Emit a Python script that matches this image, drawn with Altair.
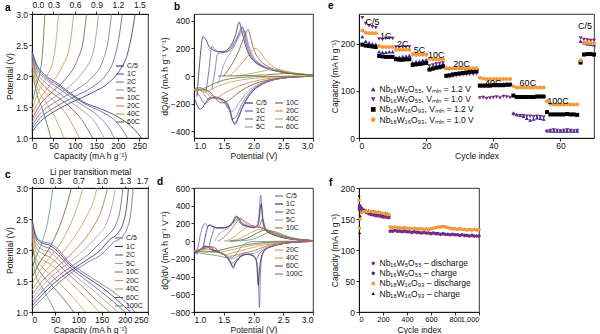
import altair as alt
import pandas as pd

FONT = "Liberation Sans"

# ---------------- rates & colours ----------------
rates_ab = ["C/5", "1C", "2C", "5C", "10C", "20C", "40C", "60C"]
colors_ab = ["#2d2b6b", "#4f5aa8", "#70708e", "#9c8cab", "#8c4a3c", "#d9843c", "#b3a64a", "#5f6e3a"]
rates_cd = ["C/5", "1C", "2C", "5C", "10C", "20C", "40C", "60C", "100C"]
colors_cd = ["#6462b4", "#2a2860", "#66587e", "#b88cb0", "#b0683e", "#d8963e", "#b5a25a", "#5e5e32", "#5f9474"]

# ---------------- panel a: Nb16W5O55 galvanostatic (capacity, potential) ----------------
a_discharge = {
    "C/5": [(0, 2.40), (10, 2.2), (30, 2.02), (60, 1.88), (90, 1.72), (120, 1.58), (160, 1.47), (200, 1.34), (235, 1.16), (255, 1.0)],
    "1C": [(0, 2.38), (10, 2.17), (30, 1.99), (60, 1.85), (90, 1.70), (120, 1.56), (160, 1.43), (190, 1.30), (210, 1.14), (222, 1.0)],
    "2C": [(0, 2.36), (10, 2.13), (30, 1.96), (60, 1.81), (90, 1.66), (120, 1.52), (150, 1.38), (175, 1.20), (192, 1.0)],
    "5C": [(0, 2.33), (10, 2.08), (30, 1.90), (60, 1.74), (90, 1.58), (120, 1.43), (145, 1.27), (168, 1.0)],
    "10C": [(0, 2.30), (10, 2.02), (30, 1.83), (60, 1.66), (90, 1.49), (115, 1.30), (141, 1.0)],
    "20C": [(0, 2.25), (10, 1.95), (30, 1.74), (60, 1.54), (85, 1.33), (110, 1.0)],
    "40C": [(0, 2.20), (10, 1.86), (30, 1.60), (50, 1.38), (75, 1.0)],
    "60C": [(0, 2.10), (10, 1.75), (25, 1.45), (44, 1.0)],
}
a_charge = {
    "C/5": [(0, 1.10), (20, 1.27), (50, 1.42), (100, 1.60), (140, 1.73), (180, 1.90), (205, 2.10), (222, 2.35), (233, 2.70), (240, 3.0)],
    "1C": [(0, 1.15), (20, 1.33), (50, 1.48), (100, 1.67), (140, 1.82), (170, 2.00), (190, 2.25), (202, 2.60), (210, 3.0)],
    "2C": [(0, 1.20), (20, 1.40), (50, 1.56), (100, 1.77), (140, 1.98), (165, 2.25), (178, 2.60), (185, 3.0)],
    "5C": [(0, 1.25), (20, 1.47), (50, 1.65), (90, 1.85), (120, 2.08), (143, 2.40), (155, 3.0)],
    "10C": [(0, 1.30), (20, 1.55), (50, 1.76), (80, 1.97), (105, 2.25), (120, 2.60), (127, 3.0)],
    "20C": [(0, 1.38), (20, 1.65), (45, 1.88), (70, 2.15), (88, 2.50), (97, 3.0)],
    "40C": [(0, 1.45), (15, 1.75), (35, 2.00), (52, 2.35), (62, 3.0)],
    "60C": [(0, 1.55), (10, 1.85), (22, 2.20), (30, 3.0)],
}
a_top_ticks = [0, 50, 100, 150, 200, 250]
a_top_labels = ["0.0", "0.3", "0.6", "0.9", "1.2", "1.5"]

# ---------------- panel c: Nb18W16O93 galvanostatic ----------------
c_discharge = {
    "C/5": [(0, 2.50), (8, 2.25), (20, 2.14), (40, 2.10), (55, 2.02), (80, 1.80), (110, 1.64), (150, 1.45), (185, 1.27), (210, 1.10), (222, 1.0)],
    "1C": [(0, 2.48), (8, 2.22), (20, 2.12), (40, 2.07), (55, 1.98), (80, 1.77), (110, 1.60), (150, 1.40), (180, 1.22), (200, 1.08), (212, 1.0)],
    "2C": [(0, 2.45), (8, 2.18), (20, 2.08), (40, 2.02), (55, 1.93), (80, 1.73), (110, 1.55), (145, 1.35), (175, 1.17), (200, 1.0)],
    "5C": [(0, 2.42), (8, 2.12), (20, 2.02), (40, 1.96), (55, 1.86), (80, 1.67), (110, 1.48), (140, 1.30), (165, 1.13), (185, 1.0)],
    "10C": [(0, 2.38), (8, 2.06), (20, 1.95), (40, 1.88), (55, 1.78), (80, 1.60), (110, 1.40), (140, 1.18), (168, 1.0)],
    "20C": [(0, 2.30), (8, 1.98), (20, 1.86), (40, 1.77), (60, 1.64), (90, 1.42), (120, 1.20), (145, 1.0)],
    "40C": [(0, 2.20), (8, 1.88), (20, 1.74), (40, 1.60), (65, 1.42), (90, 1.22), (115, 1.0)],
    "60C": [(0, 2.10), (8, 1.78), (20, 1.62), (40, 1.45), (65, 1.24), (90, 1.0)],
    "100C": [(0, 1.90), (8, 1.60), (20, 1.42), (35, 1.22), (50, 1.0)],
}
c_charge = {
    "C/5": [(0, 1.05), (20, 1.20), (50, 1.42), (90, 1.66), (120, 1.80), (150, 1.93), (175, 2.12), (195, 2.22), (205, 2.35), (213, 2.60), (218, 3.0)],
    "1C": [(0, 1.10), (20, 1.26), (50, 1.48), (90, 1.70), (120, 1.85), (145, 1.98), (168, 2.17), (185, 2.27), (197, 2.45), (204, 2.70), (208, 3.0)],
    "2C": [(0, 1.15), (20, 1.32), (50, 1.54), (90, 1.76), (120, 1.92), (145, 2.10), (165, 2.25), (180, 2.40), (190, 2.65), (196, 3.0)],
    "5C": [(0, 1.20), (20, 1.40), (50, 1.62), (85, 1.83), (115, 2.02), (140, 2.22), (160, 2.42), (172, 2.70), (180, 3.0)],
    "10C": [(0, 1.27), (20, 1.48), (50, 1.70), (80, 1.90), (105, 2.10), (130, 2.35), (150, 2.65), (163, 3.0)],
    "20C": [(0, 1.35), (20, 1.58), (45, 1.80), (70, 2.00), (95, 2.25), (118, 2.55), (133, 2.80), (140, 3.0)],
    "40C": [(0, 1.45), (20, 1.70), (40, 1.90), (65, 2.15), (85, 2.45), (100, 2.75), (110, 3.0)],
    "60C": [(0, 1.55), (15, 1.78), (35, 2.00), (55, 2.30), (72, 2.65), (85, 3.0)],
    "100C": [(0, 1.70), (12, 1.95), (25, 2.20), (35, 2.50), (45, 3.0)],
}
c_top_ticks = [0, 50, 100, 150, 200, 250]
c_top_labels = ["0.0", "0.3", "0.7", "1.0", "1.3", "1.7"]

# ---------------- panel b: Nb16W5O55 dQ/dV (potential, dQ/dV) ----------------
b_charge = {
    "C/5": [(1.05, -150), (1.1, 120), (1.15, 285), (1.2, 265), (1.25, 215), (1.3, 195), (1.35, 182), (1.4, 178), (1.5, 178), (1.6, 210), (1.65, 245), (1.7, 300), (1.76, 390), (1.8, 330), (1.85, 245), (1.9, 178), (1.95, 137), (2.0, 110), (2.1, 78), (2.2, 58), (2.3, 44), (2.4, 34), (2.5, 26), (2.6, 20), (2.8, 12), (3.0, 8)],
    "1C": [(1.2, -120), (1.25, 40), (1.3, 215), (1.35, 192), (1.4, 178), (1.5, 172), (1.6, 195), (1.65, 225), (1.7, 262), (1.75, 305), (1.81, 360), (1.85, 290), (1.9, 200), (1.95, 150), (2.0, 118), (2.1, 82), (2.2, 60), (2.3, 46), (2.4, 35), (2.5, 27), (2.6, 20), (2.8, 12), (3.0, 8)],
    "2C": [(1.3, -100), (1.35, 30), (1.4, 165), (1.5, 170), (1.6, 185), (1.65, 210), (1.7, 245), (1.75, 290), (1.82, 345), (1.87, 290), (1.9, 230), (1.95, 165), (2.0, 128), (2.1, 87), (2.2, 63), (2.3, 47), (2.4, 36), (2.5, 27), (2.6, 20), (2.8, 12), (3.0, 8)],
    "5C": [(1.4, -60), (1.45, 10), (1.5, 80), (1.6, 160), (1.65, 195), (1.7, 235), (1.75, 278), (1.8, 318), (1.85, 330), (1.9, 255), (1.95, 185), (2.0, 138), (2.1, 92), (2.2, 66), (2.3, 49), (2.4, 37), (2.5, 28), (2.6, 21), (2.8, 12), (3.0, 8)],
    "10C": [(1.5, 0), (1.6, 60), (1.65, 95), (1.7, 135), (1.75, 180), (1.8, 235), (1.85, 290), (1.91, 338), (1.95, 280), (2.0, 200), (2.1, 118), (2.2, 80), (2.3, 56), (2.4, 41), (2.5, 30), (2.6, 22), (2.8, 13), (3.0, 8)],
    "20C": [(1.6, 0), (1.65, 20), (1.7, 42), (1.75, 65), (1.8, 90), (1.85, 115), (1.9, 142), (1.95, 172), (2.03, 200), (2.1, 180), (2.2, 120), (2.3, 78), (2.4, 52), (2.5, 36), (2.6, 25), (2.8, 14), (3.0, 8)],
    "40C": [(1.7, 0), (1.8, 5), (1.9, 13), (2.0, 22), (2.1, 31), (2.2, 40), (2.3, 48), (2.4, 48), (2.5, 40), (2.6, 30), (2.8, 16), (3.0, 8)],
    "60C": [(1.4, 0), (1.8, 2), (2.0, 4), (2.2, 8), (2.4, 14), (2.5, 18), (2.6, 18), (2.8, 12), (3.0, 7)],
}
b_discharge = {
    "C/5": [(1.0, -150), (1.05, -210), (1.1, -240), (1.15, -225), (1.2, -190), (1.25, -160), (1.3, -155), (1.35, -160), (1.4, -165), (1.5, -175), (1.6, -235), (1.65, -320), (1.69, -352), (1.75, -300), (1.8, -245), (1.85, -200), (1.9, -160), (1.95, -130), (2.0, -105), (2.1, -72), (2.2, -48), (2.3, -32), (2.4, -22), (2.5, -15), (2.6, -10), (2.8, -5), (3.0, -2)],
    "1C": [(1.0, -100), (1.05, -120), (1.1, -150), (1.15, -190), (1.2, -200), (1.25, -175), (1.3, -160), (1.35, -155), (1.4, -160), (1.5, -178), (1.6, -250), (1.64, -320), (1.68, -342), (1.75, -290), (1.8, -235), (1.85, -192), (1.9, -155), (1.95, -125), (2.0, -100), (2.1, -70), (2.2, -47), (2.3, -32), (2.4, -22), (2.5, -15), (2.6, -10), (2.8, -5), (3.0, -2)],
    "2C": [(1.0, -100), (1.05, -95), (1.1, -100), (1.15, -120), (1.2, -150), (1.25, -170), (1.3, -160), (1.35, -150), (1.4, -155), (1.5, -180), (1.6, -255), (1.65, -310), (1.7, -300), (1.75, -255), (1.8, -208), (1.85, -170), (1.9, -138), (1.95, -112), (2.0, -92), (2.1, -65), (2.2, -44), (2.3, -30), (2.4, -21), (2.5, -15), (2.6, -10), (2.8, -5), (3.0, -2)],
    "5C": [(1.0, -100), (1.1, -95), (1.2, -100), (1.25, -120), (1.3, -140), (1.35, -150), (1.4, -160), (1.5, -195), (1.6, -250), (1.64, -258), (1.7, -235), (1.75, -200), (1.8, -168), (1.85, -140), (1.9, -115), (1.95, -96), (2.0, -80), (2.1, -58), (2.2, -40), (2.3, -28), (2.4, -20), (2.5, -14), (2.6, -9), (2.8, -4), (3.0, -2)],
    "10C": [(1.0, -105), (1.1, -100), (1.2, -100), (1.25, -110), (1.3, -130), (1.35, -160), (1.4, -182), (1.47, -195), (1.5, -193), (1.6, -172), (1.65, -155), (1.7, -137), (1.75, -120), (1.8, -105), (1.9, -80), (2.0, -60), (2.1, -45), (2.2, -33), (2.3, -24), (2.4, -17), (2.5, -12), (2.6, -8), (2.8, -4), (3.0, -2)],
    "20C": [(1.0, -105), (1.1, -105), (1.2, -120), (1.25, -140), (1.3, -160), (1.35, -165), (1.4, -155), (1.5, -128), (1.6, -103), (1.7, -83), (1.8, -66), (1.9, -52), (2.0, -40), (2.1, -30), (2.2, -22), (2.3, -16), (2.4, -12), (2.5, -9), (2.6, -6), (2.8, -3), (3.0, -1)],
    "40C": [(1.0, -100), (1.1, -95), (1.15, -100), (1.2, -110), (1.25, -105), (1.3, -95), (1.4, -75), (1.5, -58), (1.6, -45), (1.8, -28), (2.0, -17), (2.2, -10), (2.5, -4), (3.0, -1)],
    "60C": [(1.0, -90), (1.1, -85), (1.15, -90), (1.2, -85), (1.3, -62), (1.4, -45), (1.5, -30), (1.6, -20), (1.8, -10), (2.0, -5), (2.5, -2), (3.0, 0)],
}

# ---------------- panel d: Nb18W16O93 dQ/dV ----------------
d_charge = {
    "C/5": [(1.05, -150), (1.1, 50), (1.15, 170), (1.19, 200), (1.23, 160), (1.27, 190), (1.3, 165), (1.4, 150), (1.5, 150), (1.6, 180), (1.65, 220), (1.7, 285), (1.75, 230), (1.8, 185), (1.9, 165), (2.0, 150), (2.05, 170), (2.09, 280), (2.12, 520), (2.15, 260), (2.2, 120), (2.3, 80), (2.4, 55), (2.5, 38), (2.6, 26), (2.8, 12), (3.0, 6)],
    "1C": [(1.15, -100), (1.2, 80), (1.25, 180), (1.3, 170), (1.35, 160), (1.4, 150), (1.5, 150), (1.6, 175), (1.67, 230), (1.72, 280), (1.8, 200), (1.9, 170), (2.0, 155), (2.08, 185), (2.13, 420), (2.16, 240), (2.2, 130), (2.3, 85), (2.4, 58), (2.5, 40), (2.6, 27), (2.8, 13), (3.0, 6)],
    "2C": [(1.25, -80), (1.3, 60), (1.35, 150), (1.4, 148), (1.5, 150), (1.6, 170), (1.7, 240), (1.75, 265), (1.8, 210), (1.9, 175), (2.0, 158), (2.1, 172), (2.15, 250), (2.2, 150), (2.3, 90), (2.4, 60), (2.5, 42), (2.6, 28), (2.8, 13), (3.0, 6)],
    "5C": [(1.35, 0), (1.4, 60), (1.5, 120), (1.6, 160), (1.7, 230), (1.77, 260), (1.85, 210), (1.9, 185), (2.0, 165), (2.1, 165), (2.2, 140), (2.3, 95), (2.4, 63), (2.5, 44), (2.6, 30), (2.8, 14), (3.0, 6)],
    "10C": [(1.4, 0), (1.5, 40), (1.6, 110), (1.7, 200), (1.78, 255), (1.85, 225), (1.95, 185), (2.05, 160), (2.15, 145), (2.2, 135), (2.3, 100), (2.4, 67), (2.5, 46), (2.6, 31), (2.8, 15), (3.0, 6)],
    "20C": [(1.5, 0), (1.6, 20), (1.7, 60), (1.8, 120), (1.9, 160), (2.0, 170), (2.1, 155), (2.2, 135), (2.3, 105), (2.4, 72), (2.5, 50), (2.6, 33), (2.8, 15), (3.0, 6)],
    "40C": [(1.55, 0), (1.7, 15), (1.8, 40), (1.9, 75), (2.0, 110), (2.1, 130), (2.2, 130), (2.3, 110), (2.4, 80), (2.5, 55), (2.6, 36), (2.8, 16), (3.0, 6)],
    "60C": [(1.6, 0), (1.8, 15), (1.9, 35), (2.0, 70), (2.1, 105), (2.2, 125), (2.3, 115), (2.4, 88), (2.5, 60), (2.6, 40), (2.8, 17), (3.0, 6)],
    "100C": [(1.6, 0), (1.8, 5), (2.0, 25), (2.1, 50), (2.2, 85), (2.3, 110), (2.4, 100), (2.5, 72), (2.6, 48), (2.8, 20), (3.0, 7)],
}
d_discharge = {
    "C/5": [(1.0, -150), (1.05, -130), (1.1, -100), (1.15, -75), (1.2, -60), (1.25, -75), (1.3, -100), (1.4, -120), (1.5, -145), (1.55, -170), (1.62, -240), (1.66, -310), (1.7, -250), (1.75, -200), (1.8, -170), (1.9, -150), (2.0, -170), (2.05, -220), (2.08, -400), (2.1, -750), (2.12, -300), (2.15, -160), (2.2, -100), (2.3, -62), (2.4, -42), (2.5, -28), (2.6, -18), (2.8, -8), (3.0, -3)],
    "1C": [(1.0, -130), (1.1, -95), (1.15, -65), (1.2, -55), (1.25, -70), (1.3, -95), (1.4, -120), (1.5, -150), (1.6, -230), (1.65, -290), (1.7, -240), (1.8, -165), (1.9, -148), (2.0, -170), (2.05, -230), (2.08, -500), (2.1, -330), (2.15, -140), (2.2, -95), (2.3, -62), (2.4, -42), (2.5, -28), (2.6, -18), (2.8, -8), (3.0, -3)],
    "2C": [(1.0, -120), (1.1, -100), (1.2, -70), (1.25, -60), (1.3, -75), (1.35, -100), (1.45, -130), (1.55, -180), (1.64, -250), (1.7, -220), (1.8, -160), (1.9, -145), (2.0, -165), (2.05, -200), (2.1, -140), (2.2, -88), (2.3, -58), (2.4, -40), (2.5, -27), (2.6, -17), (2.8, -8), (3.0, -3)],
    "5C": [(1.0, -115), (1.15, -90), (1.25, -65), (1.3, -60), (1.35, -75), (1.4, -105), (1.45, -130), (1.55, -175), (1.62, -200), (1.7, -185), (1.8, -150), (1.9, -140), (2.0, -140), (2.1, -110), (2.2, -76), (2.3, -52), (2.4, -36), (2.5, -24), (2.6, -15), (2.8, -7), (3.0, -3)],
    "10C": [(1.0, -110), (1.2, -80), (1.3, -65), (1.35, -75), (1.4, -100), (1.45, -130), (1.55, -165), (1.6, -170), (1.7, -160), (1.8, -140), (1.9, -125), (2.0, -110), (2.1, -85), (2.2, -60), (2.4, -30), (2.6, -13), (2.8, -6), (3.0, -3)],
    "20C": [(1.0, -105), (1.2, -90), (1.3, -100), (1.4, -125), (1.45, -145), (1.5, -150), (1.6, -140), (1.7, -125), (1.8, -105), (1.9, -88), (2.0, -70), (2.2, -42), (2.4, -22), (2.6, -10), (2.8, -5), (3.0, -2)],
    "40C": [(1.0, -110), (1.2, -110), (1.3, -125), (1.4, -130), (1.5, -118), (1.6, -100), (1.8, -70), (2.0, -45), (2.2, -27), (2.4, -14), (2.6, -7), (2.8, -3), (3.0, -2)],
    "60C": [(1.0, -115), (1.1, -118), (1.2, -122), (1.3, -118), (1.4, -108), (1.5, -92), (1.6, -75), (1.8, -48), (2.0, -28), (2.2, -16), (2.4, -8), (2.6, -4), (2.8, -2), (3.0, -1)],
    "100C": [(1.0, -125), (1.2, -145), (1.4, -165), (1.6, -190), (1.7, -150), (1.8, -60), (1.9, -15), (2.0, -5), (2.4, -2), (3.0, 0)],
}

# ---------------- panel e: rate performance ----------------
e_series = ["Nb₁₆W₅O₅₅, Vₘᵢₙ = 1.2 V", "Nb₁₆W₅O₅₅, Vₘᵢₙ = 1.0 V",
            "Nb₁₈W₁₆O₉₃, Vₘᵢₙ = 1.2 V", "Nb₁₈W₁₆O₉₃, Vₘᵢₙ = 1.0 V"]
e_colors = ["#2b2ba6", "#6f2a7d", "#000000", "#f29a38"]
e_shapes = ["triangle-up", "triangle-down", "square", "circle"]
e_cycles = list(range(1, 71))
e_blue = [215, 205, 202, 200, 199, 183, 182, 182, 183, 183, 171, 172, 173, 174, 175,
          160, 162, 163, 165, 166, 148, 151, 153, 155, 157,
          149, 148, 148, 148, 148, 148, 148, 148, 148, 148,
          113, 113, 114, 114, 114, 114, 114, 115, 115, 115,
          53, 50, 48, 46, 42, 38, 40, 43, 42, 40,
          16, 15, 15, 15, 15, 15, 15, 15, 15, 15,
          205, 202, 200, 199, 198]
e_purple = [255, 243, 238, 236, 234, 210, 209, 211, 212, 211, 193, 192, 193, 193, 193,
            176, 175, 176, 176, 176, 153, 155, 157, 158, 159,
            130, 130, 131, 132, 133, 134, 134, 135, 135, 136,
            85, 86, 84, 85, 86, 87, 85, 88, 87, 86,
            50, 48, 47, 47, 46, 46, 45, 46, 45, 44,
            14, 16, 17, 16, 15, 16, 17, 16, 15, 16,
            212, 209, 208, 207, 207]
e_black = [198, 196, 195, 194, 193, 174, 173, 172, 172, 172, 167, 166, 166, 167, 167,
           155, 156, 157, 158, 159, 145, 147, 149, 150, 152,
           132, 133, 135, 136, 137, 138, 139, 140, 141, 142,
           111, 111, 111, 111, 112, 112, 112, 112, 113, 113,
           90, 87, 87, 87, 87, 87, 87, 88, 88, 88,
           55, 50, 50, 50, 50, 50, 51, 50, 50, 49,
           160, 177, 178, 178, 177]
e_orange = [228, 223, 222, 222, 222, 195, 193, 193, 193, 193, 187, 187, 187, 187, 187,
            178, 177, 177, 177, 177, 168, 167, 167, 167, 167,
            148, 148, 148, 148, 148, 148, 148, 148, 148, 148,
            128, 126, 125, 125, 125, 125, 125, 125, 125, 125,
            110, 107, 107, 107, 107, 107, 107, 107, 107, 107,
            78, 72, 71, 71, 71, 71, 71, 71, 71, 71,
            165, 203, 202, 201, 201]
e_lab_text = ["C/5", "1C", "2C", "5C", "10C", "20C", "40C", "60C", "100C", "C/5"]
e_lab_cycle = [4, 8, 13, 18, 23, 30.5, 40, 50.3, 59.3, 67.3]
e_lab_cap = [246, 216, 199, 186, 175, 158, 117, 117, 79, 237]

# ---------------- panel f: long cycling ----------------
f_series = ["Nb₁₆W₅O₅₅ – discharge", "Nb₁₆W₅O₅₅ – charge",
            "Nb₁₈W₁₆O₉₃ – discharge", "Nb₁₈W₁₆O₉₃ – charge"]
f_colors = ["#7b2a86", "#3a2a80", "#f39a38", "#111111"]
f_shapes = ["circle", "circle", "square", "triangle-up"]
f_xticks = [0, 200, 400, 600, 800, 1000]
f_xlabels = ["0", "200", "400", "600", "800", "1,000"]
f_cycles = [1, 5, 10, 20, 40, 60, 80, 100, 120, 140, 160, 180, 200, 220, 240, 250,
            260, 280, 300, 320, 340, 360, 380, 400, 420, 440, 460, 480, 500, 520, 540,
            560, 580, 600, 620, 640, 660, 680, 700, 720, 740, 760, 780, 800, 820, 840,
            860, 880, 900, 920, 940, 960, 980, 1000]
f_purple_dis = [165, 170, 168, 166, 163, 160, 158, 157, 156, 155, 155, 154, 153, 153, 152, 152,
                130, 130, 131, 130, 130, 129, 130, 129, 129, 128, 129, 128, 128, 127, 128,
                127, 127, 126, 127, 126, 126, 125, 126, 125, 125, 124, 125, 124, 124, 123,
                124, 123, 123, 122, 123, 122, 122, 122]
f_navy_chg = [168, 172, 170, 168, 165, 162, 160, 159, 158, 157, 157, 156, 155, 155, 154, 154,
              131, 131, 132, 131, 131, 130, 131, 130, 130, 129, 130, 129, 129, 128, 129,
              128, 128, 127, 128, 127, 127, 126, 127, 126, 126, 125, 126, 125, 125, 124,
              125, 124, 124, 123, 124, 123, 123, 123]
f_orange_dis = [180, 135, 150, 160, 162, 162, 162, 162, 161, 161, 160, 160, 159, 158, 157, 157,
                137, 136, 137, 136, 136, 135, 136, 135, 135, 134, 135, 134, 134, 134, 133,
                134, 133, 134, 135, 136, 137, 137, 138, 137, 136, 135, 134, 134, 133, 134,
                133, 133, 132, 133, 132, 133, 132, 133]
f_black_chg = [188, 128, 155, 163, 164, 164, 164, 163, 163, 162, 162, 161, 160, 160, 159, 158,
               138, 137, 138, 137, 137, 136, 137, 136, 136, 135, 136, 135, 135, 135, 134,
               135, 134, 135, 136, 137, 138, 138, 139, 138, 137, 136, 135, 135, 134, 135,
               134, 134, 133, 134, 133, 134, 133, 134]


# ---------------- helpers ----------------
def curves_df(branches):
    rows = []
    for name, curves in branches.items():
        for rate, pts in curves.items():
            for x, y in pts:
                rows.append({"rate": rate, "key": rate + "|" + name, "x": x, "y": y})
    return pd.DataFrame(rows)


def label_expr(ticks, labels):
    expr = "''"
    for t, l in reversed(list(zip(ticks, labels))):
        expr = f"datum.value == {t} ? '{l}' : ({expr})"
    return expr


def letter(ch, dx, dy):
    return alt.Chart(pd.DataFrame({"t": [ch]})).mark_text(
        font=FONT, fontSize=10, fontWeight="bold", align="left", baseline="middle", color="black"
    ).encode(x=alt.value(dx), y=alt.value(dy), text="t:N")


def line_legend(x, y, columns=1, col_pad=6, row_pad=0.0):
    return alt.Legend(orient="none", legendX=x, legendY=y, title=None, symbolType="stroke",
                      symbolSize=64, symbolStrokeWidth=1.1, labelFontSize=7, rowPadding=row_pad,
                      labelOffset=2, columns=columns, columnPadding=col_pad, padding=0)


def bottom_axis(values, title, **kw):
    return alt.Axis(values=values, title=title, labelPadding=0, titleY=13, titleBaseline="top", **kw)


H = 124

# ---------------- panel a ----------------
xs_a = alt.Scale(domain=[0, 270], nice=False)
ys_v = alt.Scale(domain=[1, 3], nice=False)
df_a = curves_df({"d": a_discharge, "c": a_charge})
lines_a = alt.Chart(df_a).mark_line(strokeWidth=0.8, interpolate="monotone").encode(
    x=alt.X("x:Q", scale=xs_a, axis=bottom_axis(a_top_ticks, "Capacity (mA h g⁻¹)")),
    y=alt.Y("y:Q", scale=ys_v, axis=alt.Axis(values=[1.0, 1.5, 2.0, 2.5, 3.0], format=".1f", title="Potential (V)")),
    color=alt.Color("rate:N", scale=alt.Scale(domain=rates_ab, range=colors_ab), legend=line_legend(83, 47)),
    detail="key:N", order="x:Q")
top_a = alt.Chart(pd.DataFrame({"x": a_top_ticks})).mark_rule(opacity=0).encode(
    x=alt.X("x:Q", scale=xs_a, axis=alt.Axis(orient="top", values=a_top_ticks, title=None, labelPadding=1.5,
                                                labelExpr=label_expr(a_top_ticks, a_top_labels))))
panel_a = alt.layer(lines_a, top_a, letter("a", -27, -6)).resolve_axis(x="independent").properties(width=116, height=H)

# ---------------- panel b ----------------
xs_p = alt.Scale(domain=[1, 3], nice=False)
df_b = curves_df({"c": b_charge, "d": b_discharge})
panel_b = alt.layer(
    alt.Chart(df_b).mark_line(strokeWidth=0.8, interpolate="monotone").encode(
        x=alt.X("x:Q", scale=xs_p, axis=bottom_axis([1.0, 1.5, 2.0, 2.5, 3.0], "Potential (V)", format=".1f")),
        y=alt.Y("y:Q", scale=alt.Scale(domain=[-450, 450], nice=False),
                axis=alt.Axis(values=[-400, -200, 0, 200, 400], title="dQ/dV (mA h g⁻¹ V⁻¹)")),
        color=alt.Color("rate:N", scale=alt.Scale(domain=rates_ab, range=colors_ab),
                        legend=line_legend(50, 84, columns=2, col_pad=5)),
        detail="key:N", order="x:Q"),
    letter("b", -20, -7),
).properties(width=119, height=H)

# ---------------- panel e ----------------
e_rows = []
for name, vals in zip(e_series, [e_blue, e_purple, e_black, e_orange]):
    for c, v in zip(e_cycles, vals):
        e_rows.append({"series": name, "cycle": c, "cap": v})
df_e = pd.DataFrame(e_rows)
xs_e = alt.Scale(domain=[0, 70], nice=False)
ys_e = alt.Scale(domain=[0, 263], nice=False)
leg_e = alt.Legend(orient="none", legendX=10, legendY=71, title=None, labelFontSize=8.5,
                   symbolSize=22, rowPadding=1.1, labelOffset=2, padding=0)
pts_e = alt.Chart(df_e).mark_point(filled=True, size=16, opacity=1, strokeWidth=0).encode(
    x=alt.X("cycle:Q", scale=xs_e, axis=bottom_axis(list(range(0, 71, 10)), "Cycle index")),
    y=alt.Y("cap:Q", scale=ys_e, axis=alt.Axis(values=[0, 50, 100, 150, 200, 250], title="Capacity (mA h g⁻¹)")),
    color=alt.Color("series:N", scale=alt.Scale(domain=e_series, range=e_colors), legend=leg_e),
    shape=alt.Shape("series:N", scale=alt.Scale(domain=e_series, range=e_shapes), legend=leg_e),
)
lab_e = alt.Chart(pd.DataFrame({"t": e_lab_text, "cycle": e_lab_cycle, "cap": e_lab_cap})).mark_text(
    font=FONT, fontSize=9, color="black").encode(
    x=alt.X("cycle:Q", scale=xs_e), y=alt.Y("cap:Q", scale=ys_e), text="t:N")
panel_e = alt.layer(pts_e, lab_e, letter("e", -31, -8)).properties(width=235, height=H)

# ---------------- panel c ----------------
xs_c = alt.Scale(domain=[0, 250], nice=False)
df_c = curves_df({"d": c_discharge, "c": c_charge})
lines_c = alt.Chart(df_c).mark_line(strokeWidth=0.8, interpolate="monotone").encode(
    x=alt.X("x:Q", scale=xs_c, axis=bottom_axis(c_top_ticks, "Capacity (mA h g⁻¹)")),
    y=alt.Y("y:Q", scale=ys_v, axis=alt.Axis(values=[1.0, 1.5, 2.0, 2.5, 3.0], format=".1f", title="Potential (V)")),
    color=alt.Color("rate:N", scale=alt.Scale(domain=rates_cd, range=colors_cd), legend=line_legend(82, 45, row_pad=0.5)),
    detail="key:N", order="x:Q")
top_c = alt.Chart(pd.DataFrame({"x": c_top_ticks})).mark_rule(opacity=0).encode(
    x=alt.X("x:Q", scale=xs_c, axis=alt.Axis(orient="top", values=c_top_ticks, title="Li per transition metal",
                                                titlePadding=0, labelPadding=0.5, tickSize=2,
                                                labelExpr=label_expr(c_top_ticks, c_top_labels))))
panel_c = alt.layer(lines_c, top_c, letter("c", -27, -13)).resolve_axis(x="independent").properties(width=116, height=H)

# ---------------- panel d ----------------
d_first = rates_cd[:5]
d_second = rates_cd[5:]
df_d = curves_df({"c": d_charge, "d": d_discharge})
xd = alt.X("x:Q", scale=xs_p, axis=bottom_axis([1.0, 1.5, 2.0, 2.5, 3.0], "Potential (V)", format=".1f"))
yd = alt.Y("y:Q", scale=alt.Scale(domain=[-800, 600], nice=False),
           axis=alt.Axis(values=[-800, -600, -400, -200, 0, 200, 400, 600], title="dQ/dV (mA h g⁻¹ V⁻¹)"))
d1 = alt.Chart(df_d[df_d["rate"].isin(d_first)]).mark_line(strokeWidth=0.8, interpolate="monotone").encode(
    x=xd, y=yd,
    color=alt.Color("rate:N", scale=alt.Scale(domain=d_first, range=colors_cd[:5]), legend=line_legend(80, 3)),
    detail="key:N", order="x:Q")
d2 = alt.Chart(df_d[df_d["rate"].isin(d_second)]).mark_line(strokeWidth=0.8, interpolate="monotone").encode(
    x=xd, y=yd,
    stroke=alt.Stroke("rate:N", scale=alt.Scale(domain=d_second, range=colors_cd[5:]), legend=line_legend(80, 57)),
    detail="key:N", order="x:Q")
panel_d = alt.layer(d2, d1, letter("d", -37, -6)).properties(width=119, height=H)

# ---------------- panel f ----------------
f_rows = []
for name, vals in zip([f_series[3], f_series[1], f_series[0], f_series[2]],
                      [f_black_chg, f_navy_chg, f_purple_dis, f_orange_dis]):
    for c, v in zip(f_cycles, vals):
        f_rows.append({"series": name, "cycle": c, "cap": v})
df_f = pd.DataFrame(f_rows)
leg_f = alt.Legend(orient="none", legendX=10, legendY=71, title=None, labelFontSize=8.5,
                   symbolSize=12, rowPadding=1.1, labelOffset=2, padding=0)
panel_f = alt.layer(
    alt.Chart(df_f).mark_point(filled=True, size=9, opacity=1, strokeWidth=0).encode(
        x=alt.X("cycle:Q", scale=alt.Scale(domain=[0, 1000], nice=False),
                axis=bottom_axis(f_xticks, "Cycle index", labelExpr=label_expr(f_xticks, f_xlabels),
                                 labelOverlap=False, labelFontSize=7.5)),
        y=alt.Y("cap:Q", scale=alt.Scale(domain=[0, 200], nice=False),
                axis=alt.Axis(values=[0, 50, 100, 150, 200], title="Capacity (mA h g⁻¹)")),
        color=alt.Color("series:N", scale=alt.Scale(domain=f_series, range=f_colors), legend=leg_f),
        shape=alt.Shape("series:N", scale=alt.Scale(domain=f_series, range=f_shapes), legend=leg_f),
    ),
    letter("f", -30, -5),
).properties(width=120, height=H)

res = dict(color="independent", shape="independent", stroke="independent")
chart = alt.concat(panel_a, panel_b, panel_e, panel_c, panel_d, panel_f, columns=3,
                   spacing={"row": 50, "column": 46}, bounds="flush", align="each").resolve_scale(**res).properties(
    padding={"left": 4, "top": 0, "right": 0, "bottom": 0}, background="white"
).configure_axis(
    labelFont=FONT, titleFont=FONT, labelFontSize=8.5, titleFontSize=8.5, titleFontWeight="normal",
    labelColor="#111", titleColor="#111", domainColor="black", tickColor="black",
    tickSize=3, tickWidth=0.8, domainWidth=0.8, labelPadding=1.5, titlePadding=1, grid=False,
).configure_legend(labelFont=FONT, labelColor="#111").configure_view(stroke="black", strokeWidth=0.8)

chart.save("out.html", embed_options={"renderer": "svg", "actions": False})
